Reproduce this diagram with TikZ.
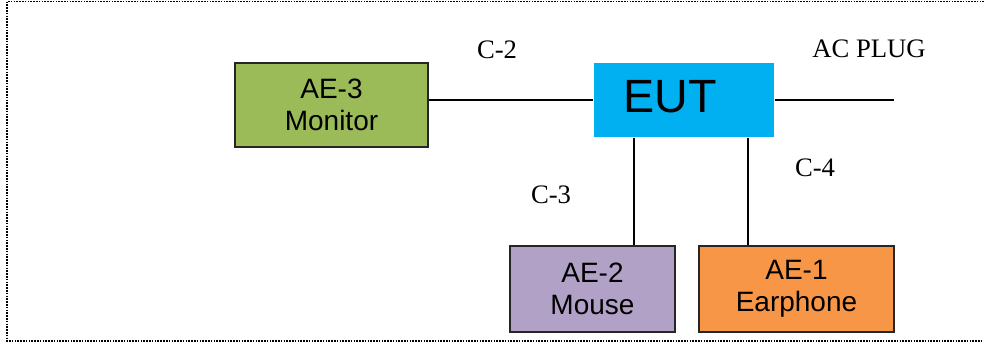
\documentclass[tikz,border=0pt]{standalone}
\usepackage{fontspec}
\setmainfont{Liberation Serif}
\newfontfamily\boxfont{Liberation Sans}
\usetikzlibrary{positioning}
\definecolor{monitorgreen}{HTML}{9BBB59}
\definecolor{eutblue}{HTML}{00B0F0}
\definecolor{mousepurple}{HTML}{B2A1C7}
\definecolor{earorange}{HTML}{F79646}
\begin{document}
\begin{tikzpicture}[
        x=0.75pt, y=-0.75pt,
        line width=1.1pt
    ]
    \tikzset{
        aebox/.style = {rectangle, draw=black!85, line width=0.8pt, align=center, inner sep=0pt,
            font=\boxfont\fontsize{21}{24}\selectfont},
        cablelabel/.style = {anchor=base, inner sep=0pt, font=\fontsize{20}{24}\selectfont},
    }
    \useasboundingbox (0,0) rectangle (984,343);
    \draw[line width=1.1pt, dash pattern=on 1.2pt off 0.9pt] (7,1.5) rectangle (1010,341);
    % boxes
    \node[aebox, fill=monitorgreen, minimum width=193*0.75pt, minimum height=84*0.75pt] (monitor) at (331.5,105) {AE-3\\Monitor};
    \node[rectangle, fill=eutblue, minimum width=180*0.75pt, minimum height=74*0.75pt] (eut) at (684,100) {};
    \node[inner sep=0pt, anchor=base, font=\boxfont\fontsize{35}{40}\selectfont] (euttext) at (670,112) {EUT};
    \node[aebox, fill=mousepurple, minimum width=165*0.75pt, minimum height=86*0.75pt] (mouse) at (592.5,289) {AE-2\\Mouse};
    \node[aebox, fill=earorange, minimum width=195*0.75pt, minimum height=86*0.75pt] (earphone) at (796.5,289) {AE-1\\Earphone};
    \coordinate (plug) at (894,100);
    % cables
    \draw (monitor.east |- eut.west) -- (eut.west);
    \draw (eut.east) -- (plug);
    \draw (634,0 |- eut.south) -- (634,0 |- mouse.north);
    \draw (748,0 |- eut.south) -- (748,0 |- earphone.north);
    % labels
    \node[cablelabel] (ctwo) at (497,58) {C-2};
    \node[cablelabel] (acplug) at (869,57) {AC PLUG};
    \node[cablelabel] (cthree) at (551,203) {C-3};
    \node[cablelabel] (cfour) at (815,176) {C-4};
\end{tikzpicture}
\end{document}
